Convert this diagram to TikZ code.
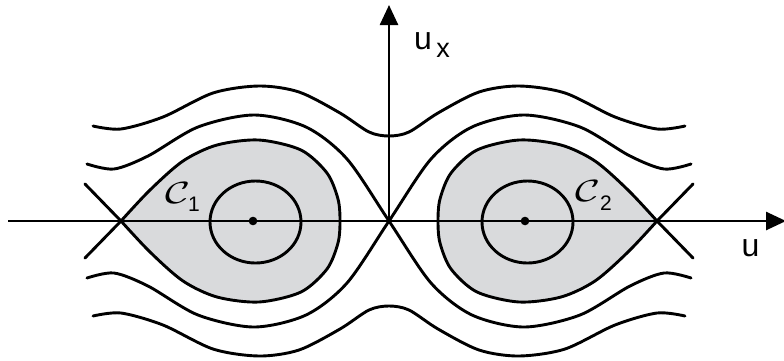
\RequirePackage{fix-cm}
\documentclass[tikz,border=0pt]{standalone}
\usepackage{graphicx}
\usepackage{fontspec}
\setmainfont{Liberation Sans}
\usetikzlibrary{arrows.meta}
\definecolor{loopgray}{RGB}{217,218,220}
\tikzset{
  curve/.style={line width=2.9pt, line cap=round, line join=round},
  axisline/.style={line width=2.6pt, -{Triangle[length=20pt,width=18pt]}},
  bigtext/.style={font=\fontsize{32}{36}\selectfont, inner sep=0pt},
  subtext/.style={font=\fontsize{27}{30}\selectfont, inner sep=0pt},
  caltext/.style={inner sep=0pt},
  digtext/.style={font=\fontsize{21}{24}\selectfont, inner sep=0pt},
}
\newcommand{\bigcal}{\resizebox{25pt}{21pt}{$\mathcal{C}$}}
\begin{document}
\begin{tikzpicture}[x=1pt,y=-1pt]
\useasboundingbox (0,0) rectangle (784,360);
\begin{scope}[shift={(389,221)}]
  % named points
  \coordinate (O) at (0,0);
  \coordinate (SL) at (-268,0);
  \coordinate (SR) at (268,0);
  \coordinate (AL) at (-381,0);
  \coordinate (AR) at (397,0);
  \coordinate (AT) at (0,-216);
  % shaded loops (fill)
  \foreach \s in {1,-1}{
    \begin{scope}[xscale=\s]
      \fill[loopgray] plot[smooth] coordinates {(-268,0) (-239,-31) (-206,-60) (-172,-76) (-130,-81) (-88,-71) (-62,-48) (-51,-22) (-49,0) (-51,22) (-62,48) (-88,71) (-130,81) (-172,76) (-206,60) (-239,31) (-268,0)} -- cycle;
    \end{scope}
  }
  % axes
  \draw[axisline] (AL) -- (AR);
  \draw[axisline] (O) -- (AT);
  % loops outline, saddle crosses, outer curves
  \foreach \s in {1,-1}{
    \begin{scope}[xscale=\s]
      \draw[curve] plot[smooth] coordinates {(-268,0) (-239,-31) (-206,-60) (-172,-76) (-130,-81) (-88,-71) (-62,-48) (-51,-22) (-49,0) (-51,22) (-62,48) (-88,71) (-130,81) (-172,76) (-206,60) (-239,31) (-268,0)};
      \draw[curve] (-304,-37) -- (-268,0) -- (-304,37);
      \draw[curve] plot[smooth] coordinates {(-302,-57) (-275,-52) (-241,-65) (-191,-94) (-135,-106) (-83,-94) (-42,-62) (0,0) (42,62) (83,94) (135,106) (191,94) (241,65) (275,52) (302,57)};
    \end{scope}
  }
  \foreach \t in {1,-1}{
    \begin{scope}[yscale=\t]
      \draw[curve] plot[smooth] coordinates {(-296,-95) (-268,-92) (-226,-104) (-176,-128) (-130,-135) (-90,-129) (-49,-108) (-20,-89) (0,-85) (20,-89) (49,-108) (90,-129) (130,-135) (176,-128) (226,-104) (268,-92) (296,-95)};
    \end{scope}
  }
  % inner orbits
  \draw[curve] (-133.5,1) ellipse [x radius=45.5, y radius=41];
  \draw[curve] (138.5,1) ellipse [x radius=45.5, y radius=41];
  % centres
  \fill (-136,0) circle [radius=4.3];
  \fill (136,0) circle [radius=4.3];
\end{scope}
% labels
\node[bigtext] (ulab) at (423,41) {u};
\node[subtext] (xlab) at (443,50) {x};
\node[bigtext] (uaxis) at (750.5,248.5) {u};
\node[caltext] (c1) at (178.5,193) {\bigcal};
\node[digtext] (c1s) at (194,204.5) {1};
\node[caltext] (c2) at (587.5,191) {\bigcal};
\node[digtext] (c2s) at (606,203.5) {2};
\end{tikzpicture}
\end{document}
